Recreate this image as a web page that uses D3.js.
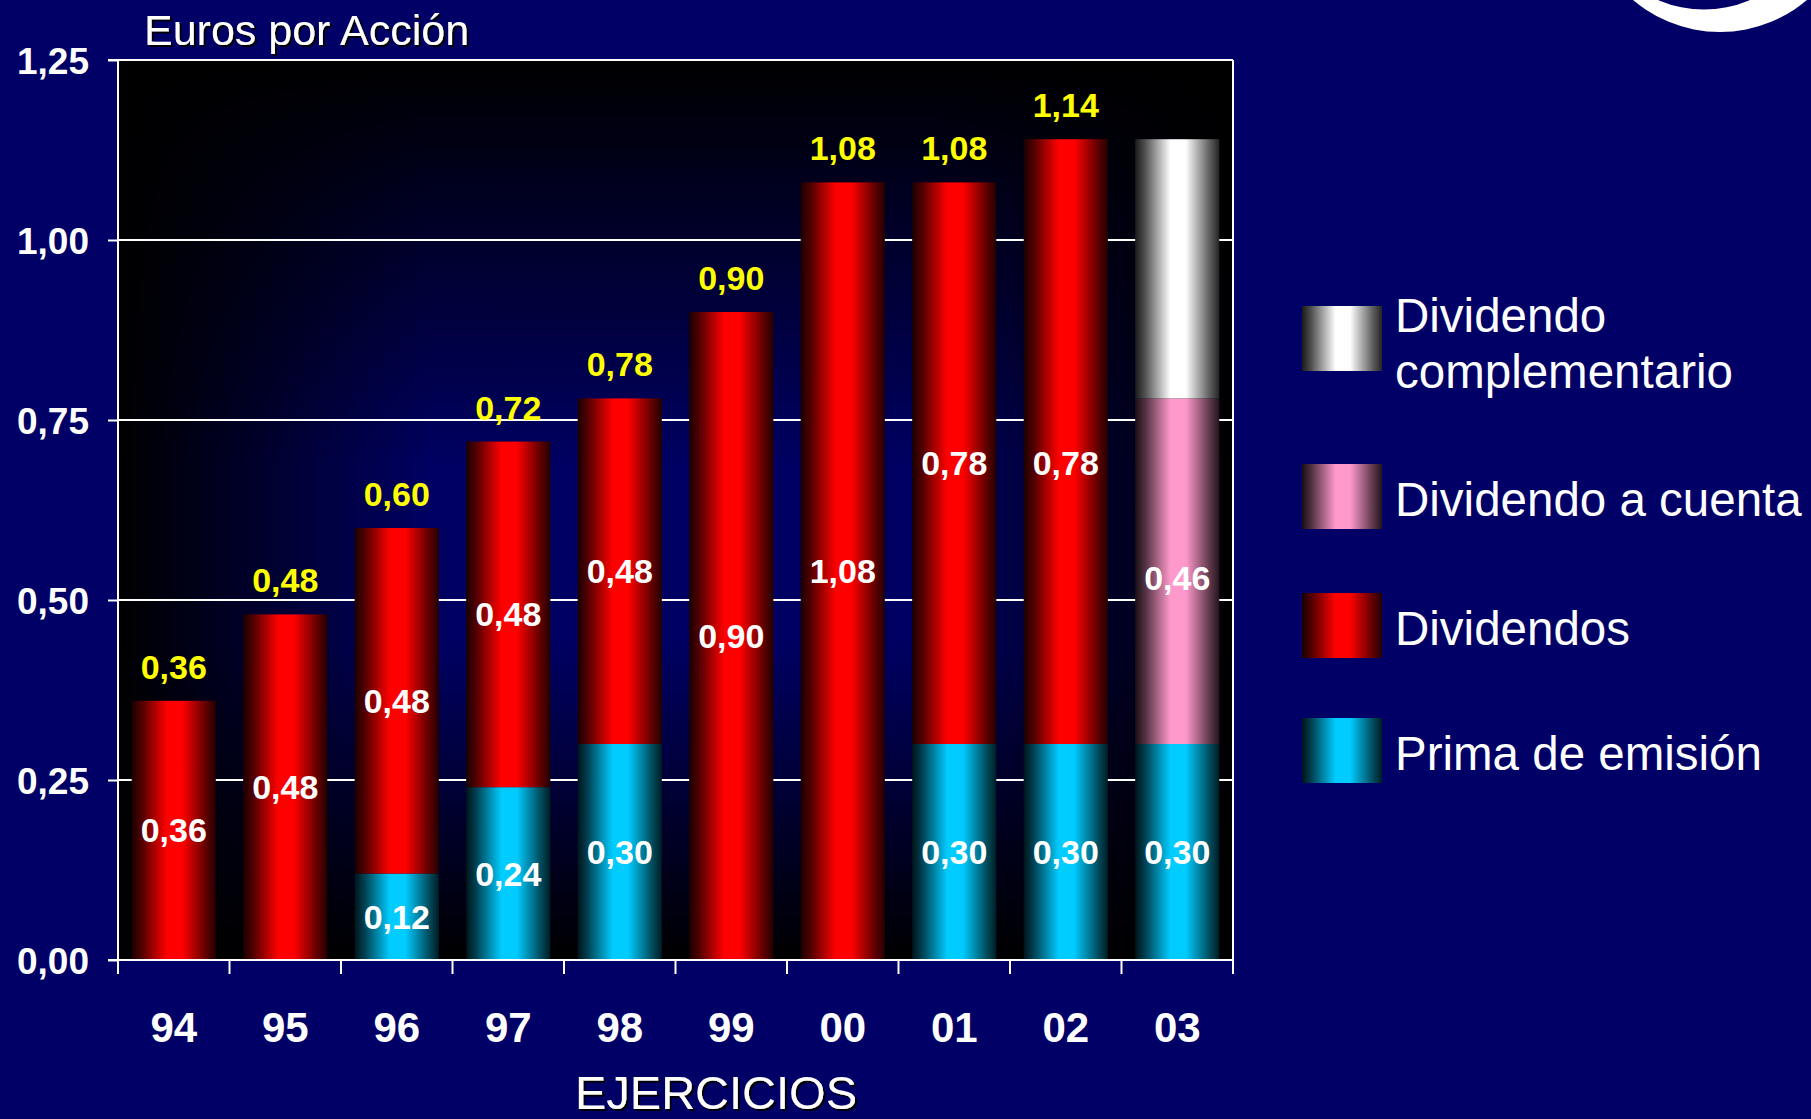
<!DOCTYPE html>
<html>
<head>
<meta charset="utf-8">
<script src="https://cdn.jsdelivr.net/npm/d3@7"></script>
<style>
  html, body { margin: 0; padding: 0; background: #000066; overflow: hidden; }
  svg { display: block; }
  text { font-family: "Liberation Sans", Arial, Helvetica, sans-serif; }
</style>
</head>
<body>
<svg id="chart" width="1811" height="1119"></svg>
<script>
// ---------- DATA ----------
const years = ["94", "95", "96", "97", "98", "99", "00", "01", "02", "03"];
const primaEmision   = [0, 0, 0.12, 0.24, 0.30, 0, 0, 0.30, 0.30, 0.30];
const dividendos     = [0.36, 0.48, 0.48, 0.48, 0.48, 0.90, 1.08, 0.78, 0.84, 0];
const divACuenta     = [0, 0, 0, 0, 0, 0, 0, 0, 0, 0.48];
const divComplement  = [0, 0, 0, 0, 0, 0, 0, 0, 0, 0.36];
// values printed inside the segments (as shown in the original)
const primaLabels    = [null, null, 0.12, 0.24, 0.30, null, null, 0.30, 0.30, 0.30];
const dividLabels    = [0.36, 0.48, 0.48, 0.48, 0.48, 0.90, 1.08, 0.78, 0.78, null];
const aCuentaLabels  = [null, null, null, null, null, null, null, null, null, 0.46];
const complLabels    = [null, null, null, null, null, null, null, null, null, null];
// totals printed above bars
const totalLabels    = [0.36, 0.48, 0.60, 0.72, 0.78, 0.90, 1.08, 1.08, 1.14, null];
const yTicks = [0, 0.25, 0.50, 0.75, 1.00, 1.25];
const seriesKeys   = ["prima", "dividendos", "aCuenta", "complementario"];
const seriesNames  = ["Prima de emisión", "Dividendos", "Dividendo a cuenta", "Dividendo complementario"];
const seriesColors = ["#00ccff", "#ff0000", "#ff99cc", "#ffffff"];
const titleText = "Euros por Acción";
const xTitle = "EJERCICIOS";

// ---------- SETUP ----------
const svg = d3.select("#chart");
const W = 1811, H = 1119;
const pL = 118, pR = 1233, pT = 60, pB = 960;
const font = '"Liberation Sans", Arial, Helvetica, sans-serif';

const fmt = d3.formatLocale({decimal: ",", thousands: ".", grouping: [3], currency: ["", "€"]}).format(".2f");

const x = d3.scaleBand().domain(years).range([pL, pR]).paddingInner(0.245).paddingOuter(0.1225);
const y = d3.scaleLinear().domain([0, 1.25]).range([pB, pT]);

const rows = years.map((yr, i) => ({
  year: yr,
  prima: primaEmision[i],
  dividendos: dividendos[i],
  aCuenta: divACuenta[i],
  complementario: divComplement[i]
}));
const labelSets = {prima: primaLabels, dividendos: dividLabels, aCuenta: aCuentaLabels, complementario: complLabels};
const stacked = d3.stack().keys(seriesKeys)(rows);

const defs = svg.append("defs");

// drop shadow for titles
const sh = defs.append("filter").attr("id", "shadow").attr("x", "-5%").attr("y", "-20%").attr("width", "110%").attr("height", "140%");
sh.append("feDropShadow").attr("dx", 2).attr("dy", 2).attr("stdDeviation", 0.3).attr("flood-color", "#000").attr("flood-opacity", 1);

// cylinder-like gradients for each series
seriesKeys.forEach((k, i) => {
  const c = seriesColors[i];
  const dark = d3.interpolateRgb("#000", c);
  const g = defs.append("linearGradient").attr("id", "g-" + k).attr("x1", 0).attr("x2", 1).attr("y1", 0).attr("y2", 0);
  [[0, dark(0.1)], [0.12, dark(0.32)], [0.42, c], [0.6, c], [0.88, dark(0.38)], [1, dark(0.14)]]
    .forEach(([o, col]) => g.append("stop").attr("offset", o).attr("stop-color", col));
});

// plot background gradients
const vg = defs.append("linearGradient").attr("id", "bgV").attr("x1", 0).attr("x2", 0).attr("y1", 0).attr("y2", 1);
[[0, "#000000"], [0.45, "#000062"], [0.65, "#000062"], [1, "#000000"]].forEach(([o, col]) => vg.append("stop").attr("offset", o).attr("stop-color", col));
const hg = defs.append("linearGradient").attr("id", "bgH").attr("x1", 0).attr("x2", 1).attr("y1", 0).attr("y2", 0);
[[0, "#000000"], [0.28, "#ffffff"], [0.72, "#ffffff"], [1, "#000000"]].forEach(([o, col]) => hg.append("stop").attr("offset", o).attr("stop-color", col));

// background
svg.append("rect").attr("width", W).attr("height", H).attr("fill", "#000066");

// decorative logo arc at top right
const arcPath = d3.path();
arcPath.moveTo(1720 + 134, -102);
arcPath.arc(1720, -102, 134, 0, Math.PI * 2);
arcPath.moveTo(1704 + 116, -106.5);
arcPath.arc(1704, -106.5, 116, 0, Math.PI * 2);
svg.append("path").attr("d", arcPath.toString()).attr("fill", "#ffffff").attr("fill-rule", "evenodd");

// plot area
const plotG = svg.append("g").style("isolation", "isolate");
plotG.append("rect").attr("x", pL).attr("y", pT).attr("width", pR - pL).attr("height", pB - pT).attr("fill", "url(#bgV)");
plotG.append("rect").attr("x", pL).attr("y", pT).attr("width", pR - pL).attr("height", pB - pT).attr("fill", "url(#bgH)").style("mix-blend-mode", "multiply");

// gridlines (behind bars)
svg.append("g").selectAll("line").data(yTicks.filter(t => t > 0)).join("line")
  .attr("x1", pL).attr("x2", pR).attr("y1", d => y(d)).attr("y2", d => y(d))
  .attr("stroke", "#ffffff").attr("stroke-width", 2);

// bars
const barG = svg.append("g");
stacked.forEach(layer => {
  barG.append("g").selectAll("rect").data(layer.filter(d => d[1] - d[0] > 0)).join("rect")
    .attr("x", d => x(d.data.year))
    .attr("width", x.bandwidth())
    .attr("y", d => y(d[1]))
    .attr("height", d => y(d[0]) - y(d[1]))
    .attr("fill", "url(#g-" + layer.key + ")");
});

// segment labels (white)
const labG = svg.append("g");
stacked.forEach(layer => {
  const labs = labelSets[layer.key];
  layer.forEach((d, i) => {
    if (labs[i] == null) return;
    labG.append("text")
      .attr("x", x(d.data.year) + x.bandwidth() / 2)
      .attr("y", y(d[0] + labs[i] / 2) + 12)
      .attr("text-anchor", "middle")
      .attr("fill", "#ffffff").attr("font-weight", "bold").attr("font-size", 34)
      .text(fmt(labs[i]));
  });
});

// totals (yellow)
const topLayer = stacked[stacked.length - 1];
svg.append("g").selectAll("text")
  .data(years.map((yr, i) => ({yr, v: totalLabels[i], t: topLayer[i][1]})).filter(d => d.v != null)).join("text")
  .attr("x", d => x(d.yr) + x.bandwidth() / 2)
  .attr("y", d => y(d.t) - 22)
  .attr("text-anchor", "middle")
  .attr("fill", "#ffff00").attr("font-weight", "bold").attr("font-size", 34)
  .text(d => fmt(d.v));

// axes frame
const axG = svg.append("g").attr("stroke", "#ffffff").attr("stroke-width", 2);
axG.append("line").attr("x1", pL).attr("x2", pL).attr("y1", pT).attr("y2", pB + 14);
axG.append("line").attr("x1", pL - 10).attr("x2", pR).attr("y1", pB).attr("y2", pB);
axG.append("line").attr("x1", pR).attr("x2", pR).attr("y1", pT).attr("y2", pB + 14);
axG.append("line").attr("x1", pL - 10).attr("x2", pR).attr("y1", pT).attr("y2", pT);
axG.selectAll("line.bt").data(d3.range(years.length + 1)).join("line").attr("class", "bt")
  .attr("x1", i => pL + i * x.step()).attr("x2", i => pL + i * x.step())
  .attr("y1", pB).attr("y2", pB + 14);

// y axis
const yAxis = d3.axisLeft(y).tickValues(yTicks).tickSize(10).tickPadding(19).tickFormat(fmt);
const yg = svg.append("g").attr("transform", `translate(${pL},0)`).call(yAxis);
yg.select(".domain").remove();
yg.selectAll(".tick line").attr("stroke", "#ffffff").attr("stroke-width", 2);
yg.selectAll(".tick text").attr("fill", "#ffffff").attr("font-family", font).attr("font-weight", "bold").attr("font-size", 37).attr("dy", "0.36em");

// x axis labels
const xAxis = d3.axisBottom(x).tickSize(0).tickPadding(52);
const xg = svg.append("g").attr("transform", `translate(0,${pB})`).call(xAxis);
xg.select(".domain").remove();
xg.selectAll(".tick text").attr("fill", "#ffffff").attr("font-family", font).attr("font-weight", "bold").attr("font-size", 42).attr("dy", "0.71em");

// titles
svg.append("text").attr("x", 144).attr("y", 45).attr("fill", "#ffffff").attr("font-size", 43)
  .attr("filter", "url(#shadow)").text(titleText);
svg.append("text").attr("x", 716).attr("y", 1109).attr("text-anchor", "middle")
  .attr("fill", "#ffffff").attr("font-size", 47).attr("filter", "url(#shadow)").text(xTitle);

// legend
const legendOrder = [3, 2, 1, 0];
const legG = svg.append("g");
legendOrder.forEach((si, j) => {
  const y0 = 306 + j * 127 + (j >= 1 ? 31 : 0) + (j === 2 ? 2 : 0);
  legG.append("rect").attr("x", 1302).attr("y", y0).attr("width", 80).attr("height", 65)
    .attr("fill", "url(#g-" + seriesKeys[si] + ")");
  const words = seriesNames[si] === "Dividendo complementario" ? ["Dividendo", "complementario"] : [seriesNames[si]];
  const t = legG.append("text").attr("x", 1395).attr("fill", "#ffffff").attr("font-size", 47.5);
  const lineH = 56;
  const firstBase = y0 + 32.5 + 19 - (words.length - 1) * lineH / 2 + (words.length > 1 ? 2 : 0);
  words.forEach((w, k) => t.append("tspan").attr("x", 1395).attr("y", firstBase + k * lineH).text(w));
});
</script>
</body>
</html>
